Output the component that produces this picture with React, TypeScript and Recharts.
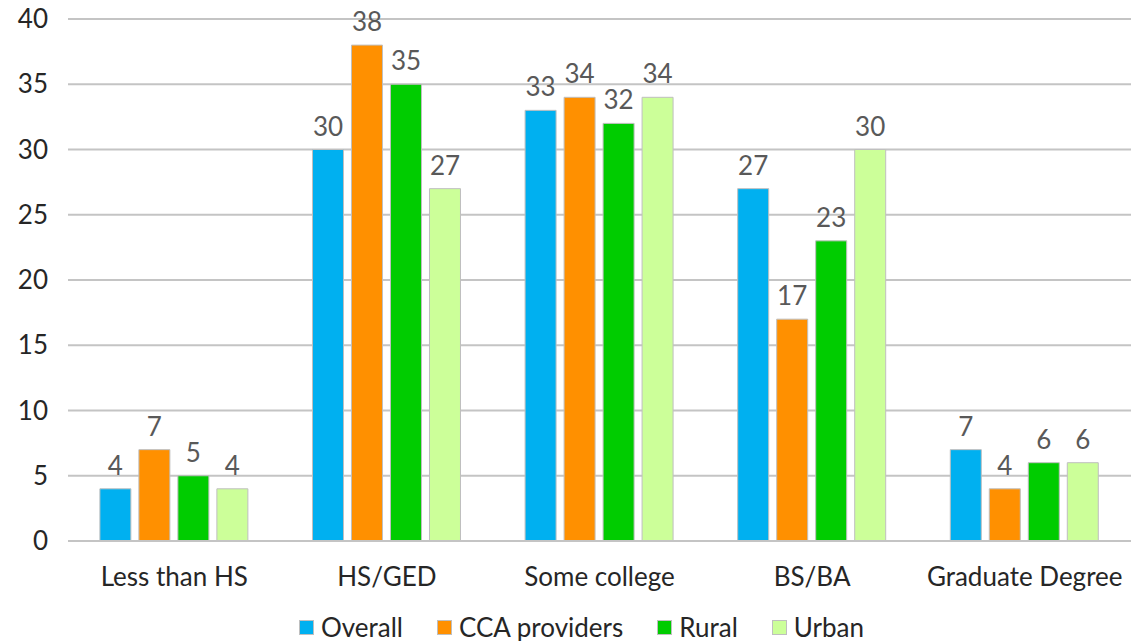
import { Bar, BarChart, CartesianGrid, LabelList, Legend, XAxis, YAxis } from "recharts";

const categories = ["Less than HS", "HS/GED", "Some college", "BS/BA", "Graduate Degree"];
const overall = [4, 30, 33, 27, 7];
const ccaProviders = [7, 38, 34, 17, 4];
const rural = [5, 35, 32, 23, 6];
const urban = [4, 27, 34, 30, 6];
const yTicks = [0, 5, 10, 15, 20, 25, 30, 35, 40];

const series = [
  { key: "overall", name: "Overall", color: "#00b0f0" },
  { key: "cca", name: "CCA providers", color: "#ff9000" },
  { key: "rural", name: "Rural", color: "#00cc00" },
  { key: "urban", name: "Urban", color: "#ccff99" },
];

const data = categories.map((name, i) => ({
  name,
  overall: overall[i],
  cca: ccaProviders[i],
  rural: rural[i],
  urban: urban[i],
}));

const FONT = "Lato, 'Open Sans', sans-serif";

function LegendRow() {
  return (
    <div
      style={{
        height: 40,
        display: "flex",
        alignItems: "center",
        justifyContent: "center",
        paddingLeft: 32,
        paddingTop: 12,
        boxSizing: "border-box",
        fontFamily: FONT,
        fontSize: 26,
        color: "#262626",
        gap: 34,
      }}
    >
      {series.map((s) => (
        <span key={s.key} style={{ display: "flex", alignItems: "center", gap: 7 }}>
          <span
            style={{
              width: 15,
              height: 15,
              background: s.color,
              border: "1px solid #bfbfbf",
              boxSizing: "border-box",
            }}
          />
          {s.name}
        </span>
      ))}
    </div>
  );
}

export default function App() {
  return (
    <div style={{ position: "absolute", left: 0, top: 0, background: "#fff" }}>
      <BarChart
        width={1131}
        height={641}
        data={data}
        margin={{ top: 19, right: 0, bottom: 0, left: 0 }}
        barCategoryGap="15%"
        barGap={8}
      >
        <CartesianGrid vertical={false} stroke="#c4c4c4" strokeWidth={2} />
        <XAxis
          dataKey="name"
          height={60}
          tickLine={false}
          tickSize={0}
          tickMargin={27}
          axisLine={{ stroke: "#c4c4c4", strokeWidth: 2 }}
          tick={{ fontFamily: FONT, fontSize: 26, fill: "#262626" }}
          interval={0}
        />
        <YAxis
          width={68}
          domain={[0, 40]}
          ticks={yTicks}
          tickLine={false}
          axisLine={false}
          tickSize={0}
          tickMargin={20}
          tick={{ fontFamily: FONT, fontSize: 26, fill: "#262626" }}
        />
        <Legend verticalAlign="bottom" height={40} content={() => <LegendRow />} />
        {series.map((s) => (
          <Bar
            key={s.key}
            dataKey={s.key}
            name={s.name}
            fill={s.color}
            stroke="#bfbfbf"
            strokeWidth={1}
            isAnimationActive={false}
          >
            <LabelList
              dataKey={s.key}
              position="top"
              offset={14}
              style={{ fontFamily: FONT, fontSize: 26, fill: "#595959" }}
            />
          </Bar>
        ))}
      </BarChart>
    </div>
  );
}
